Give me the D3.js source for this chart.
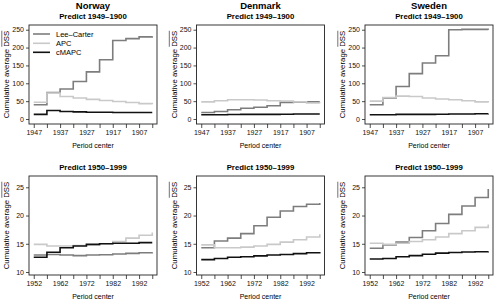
<!DOCTYPE html>
<html><head><meta charset="utf-8">
<script src="https://cdn.jsdelivr.net/npm/d3@7"></script>
<style>
html,body{margin:0;padding:0;background:#fff;}
svg{display:block;font-family:"Liberation Sans",Arial,Helvetica,sans-serif;}
</style></head>
<body>
<svg id="chart" width="494" height="301"></svg>
<script>
// ---- data ----
const countries = ["Norway", "Denmark", "Sweden"];
const seriesNames = ["Lee\u2013Carter", "APC", "cMAPC"];
const periodsTop = [1947, 1942, 1937, 1932, 1927, 1922, 1917, 1912, 1907, 1902];
const periodsBottom = [1952, 1957, 1962, 1967, 1972, 1977, 1982, 1987, 1992, 1997];
const subtitleTop = "Predict 1949\u20131900";
const subtitleBottom = "Predict 1950\u20131999";
const yTicksTop = [0, 50, 100, 150, 200, 250];
const yTicksBottom = [10, 15, 20, 25];

// Predict 1949-1900
const norwayTopLC    = [40, 74, 84, 105, 132, 166, 220, 225, 230, 232];
const norwayTopAPC   = [47, 73, 63, 59, 55, 52, 49, 46, 43, 41];
const norwayTopCMAPC = [13, 24, 21, 20, 19, 19, 18, 18, 18, 18];
const denmarkTopLC    = [18, 21, 26, 30, 33, 37, 46, 47, 48, 48];
const denmarkTopAPC   = [48, 51, 54, 54, 53, 51, 50, 48, 45, 44];
const denmarkTopCMAPC = [12, 12, 12.5, 13, 13, 13, 13.5, 14, 14, 14];
const swedenTopLC    = [40, 59, 91, 127, 157, 177, 250, 251, 251, 250];
const swedenTopAPC   = [50, 60, 64, 63, 59, 56, 54, 51, 48, 46];
const swedenTopCMAPC = [12, 12, 13, 13, 13, 13.5, 14, 14, 14.5, 15];

// Predict 1950-1999
const norwayBotLC    = [13.0, 13.1, 13.0, 12.9, 13.0, 13.05, 13.2, 13.3, 13.4, 13.5];
const norwayBotAPC   = [14.9, 14.6, 14.6, 14.7, 14.8, 15.0, 15.4, 16.0, 16.5, 17.0];
const norwayBotCMAPC = [12.6, 13.5, 14.3, 14.6, 14.9, 15.0, 15.1, 15.1, 15.2, 15.2];
const denmarkBotLC    = [14.3, 15.5, 16.0, 16.8, 18.2, 19.7, 20.8, 21.6, 22.0, 22.2];
const denmarkBotAPC   = [14.8, 14.3, 14.3, 14.4, 14.6, 14.9, 15.3, 15.7, 16.2, 16.7];
const denmarkBotCMAPC = [12.2, 12.4, 12.6, 12.7, 12.85, 13.0, 13.1, 13.25, 13.4, 13.55];
const swedenBotLC    = [14.2, 14.8, 15.3, 16.1, 17.3, 18.6, 20.2, 21.7, 23.2, 24.7];
const swedenBotAPC   = [15.1, 14.9, 15.1, 15.4, 15.7, 16.2, 16.8, 17.3, 17.9, 18.4];
const swedenBotCMAPC = [12.3, 12.4, 12.7, 12.9, 13.15, 13.35, 13.45, 13.55, 13.6, 13.65];

const topRows = [
  [norwayTopLC, norwayTopAPC, norwayTopCMAPC],
  [denmarkTopLC, denmarkTopAPC, denmarkTopCMAPC],
  [swedenTopLC, swedenTopAPC, swedenTopCMAPC]
];
const botRows = [
  [norwayBotLC, norwayBotAPC, norwayBotCMAPC],
  [denmarkBotLC, denmarkBotAPC, denmarkBotCMAPC],
  [swedenBotLC, swedenBotAPC, swedenBotCMAPC]
];

// ---- layout / style ----
const colors = ["#7d7d7d", "#c9c9c9", "#111111"];
const boxLefts = [29, 196.5, 365];
const boxW = 128;
const rows = [
  {top: 25, h: 99, periods: periodsTop, yDomain: [-14.0, 263.2], ticks: yTicksTop, sub: subtitleTop, data: topRows, title: true},
  {top: 176, h: 99, periods: periodsBottom, yDomain: [9.47, 27.0], ticks: yTicksBottom, sub: subtitleBottom, data: botRows, title: false}
];

const svg = d3.select("#chart");
const tickFont = 7;

rows.forEach((row, ri) => {
  countries.forEach((country, ci) => {
    const L = boxLefts[ci], T = row.top, W = boxW, H = row.h;
    const p = row.periods;
    const span = Math.abs(p[p.length - 1] - p[0]);
    const pad = span * 0.04;
    const dir = Math.sign(p[p.length - 1] - p[0]);
    const x = d3.scaleLinear().domain([p[0] - dir * pad, p[p.length - 1] + dir * pad]).range([L, L + W]);
    const y = d3.scaleLinear().domain(row.yDomain).range([T + H, T]);
    const g = svg.append("g");

    // lines
    const line = d3.line().x((d, i) => x(p[i])).y(d => y(d)).curve(d3.curveStepAfter);
    row.data[ci].forEach((vals, si) => {
      g.append("path").attr("d", line(vals)).attr("fill", "none")
        .attr("stroke", colors[si]).attr("stroke-width", 1.6)
        .attr("stroke-linejoin", "miter").attr("stroke-linecap", "butt");
    });

    // box
    g.append("rect").attr("x", L).attr("y", T).attr("width", W).attr("height", H)
      .attr("fill", "none").attr("stroke", "#222").attr("stroke-width", 0.9);

    // axes
    const ax = g.append("g").attr("transform", `translate(0,${T + H})`)
      .call(d3.axisBottom(x).tickValues(p).tickFormat((d, i) => i % 2 === 0 ? d : "").tickSize(4).tickSizeOuter(0).tickPadding(2));
    ax.select(".domain").remove();
    const ay = g.append("g").attr("transform", `translate(${L},0)`)
      .call(d3.axisLeft(y).tickValues(row.ticks).tickSize(3).tickSizeOuter(0).tickPadding(2));
    ay.select(".domain").remove();
    [ax, ay].forEach(a => {
      a.selectAll("text").attr("font-size", tickFont).attr("fill", "#111").attr("font-family", null);
      a.selectAll("line").attr("stroke", "#222").attr("stroke-width", 0.8);
    });

    const cx = L + W / 2;
    if (row.title) {
      g.append("text").attr("x", cx).attr("y", 8.5).attr("text-anchor", "middle")
        .attr("font-size", 9.5).attr("font-weight", "bold").text(country);
    }
    g.append("text").attr("x", cx).attr("y", T - 6.5).attr("text-anchor", "middle")
      .attr("font-size", 7.8).attr("font-weight", "bold").text(row.sub);

    g.append("text").attr("x", cx).attr("y", T + H + 24).attr("text-anchor", "middle")
      .attr("font-size", 7).text("Period center");

    // y label with overline on DSS
    const yl = g.append("text").attr("transform", `translate(${L - 20},${T + H / 2}) rotate(-90)`)
      .attr("text-anchor", "middle").attr("font-size", 7.8);
    yl.append("tspan").text("Cumulative average ");
    const dss = yl.append("tspan").text("DSS");
    const bb = dss.node().getBBox();
    g.append("line").attr("transform", `translate(${L - 20},${T + H / 2}) rotate(-90)`)
      .attr("x1", bb.x).attr("x2", bb.x + bb.width)
      .attr("y1", bb.y - 0.2).attr("y2", bb.y - 0.2)
      .attr("stroke", "#111").attr("stroke-width", 0.6);

    // legend in first panel
    if (ri === 0 && ci === 0) {
      const ly = [34, 43.3, 52.3];
      seriesNames.forEach((nm, si) => {
        g.append("line").attr("x1", 33).attr("x2", 50).attr("y1", ly[si]).attr("y2", ly[si])
          .attr("stroke", colors[si]).attr("stroke-width", 1.6);
        g.append("text").attr("x", 56).attr("y", ly[si] + 2.6).attr("font-size", 7.5).text(nm);
      });
    }
  });
});
</script>
</body></html>
